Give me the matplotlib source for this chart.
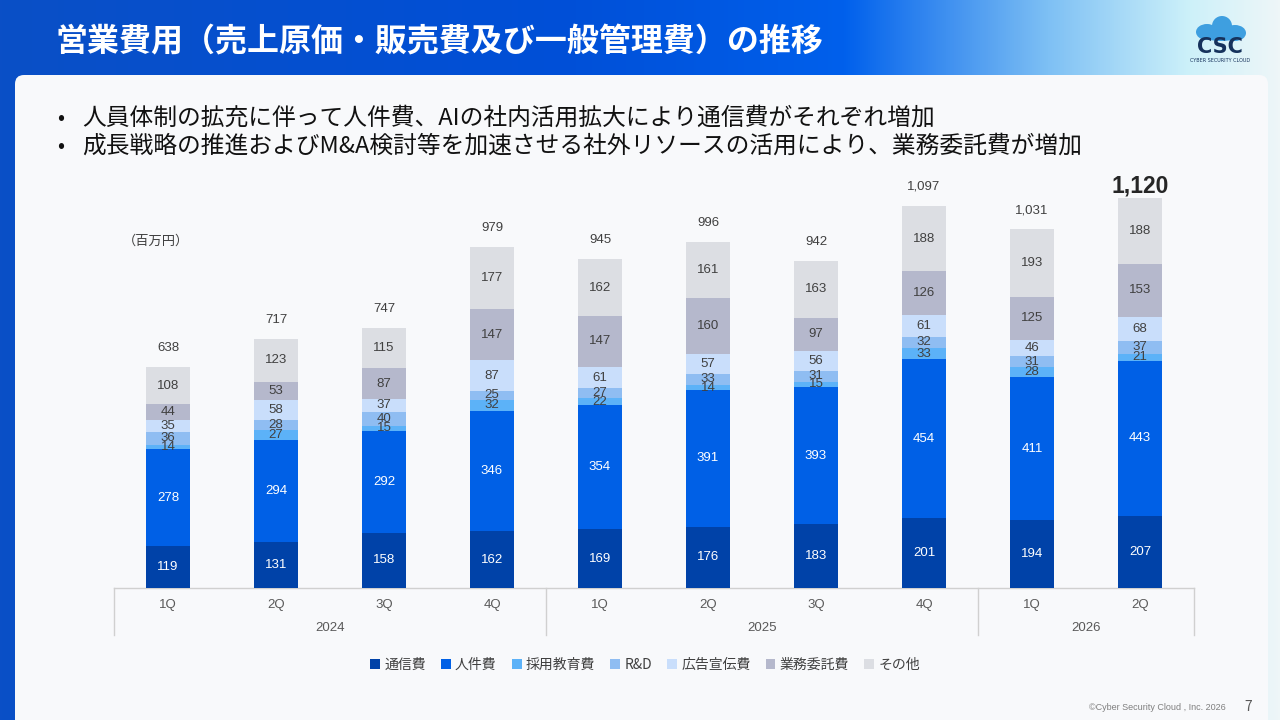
import numpy as np
import matplotlib
matplotlib.use('Agg')
import matplotlib.pyplot as plt
from matplotlib.patches import FancyBboxPatch, Rectangle, Ellipse
from matplotlib.colors import to_rgb

plt.rcParams['font.family'] = ['Noto Sans CJK JP', 'DejaVu Sans']

# data (百万円)
quarters = ['1Q', '2Q', '3Q', '4Q', '1Q', '2Q', '3Q', '4Q', '1Q', '2Q']
years = ['2024', '2025', '2026']
year_spans = [(0, 3), (4, 7), (8, 9)]
series_names = ['通信費', '人件費', '採用教育費', 'R&D', '広告宣伝費', '業務委託費', 'その他']
tsushin = [119, 131, 158, 162, 169, 176, 183, 201, 194, 207]
jinken = [278, 294, 292, 346, 354, 391, 393, 454, 411, 443]
saiyo = [14, 27, 15, 32, 22, 14, 15, 33, 28, 21]
rnd = [36, 28, 40, 25, 27, 33, 31, 32, 31, 37]
kokoku = [35, 58, 37, 87, 61, 57, 56, 61, 46, 68]
gyomu = [44, 53, 87, 147, 147, 160, 97, 126, 125, 153]
sonota = [108, 123, 115, 177, 162, 161, 163, 188, 193, 188]
totals = [638, 717, 747, 979, 945, 996, 942, 1097, 1031, 1120]

series = [tsushin, jinken, saiyo, rnd, kokoku, gyomu, sonota]
colors = ['#0042A8', '#0060E6', '#5CB2F8', '#8FBDF2', '#C9DEFB', '#B5B8CC', '#DCDEE3']
label_colors = ['white', 'white', '#404040', '#404040', '#404040', '#404040', '#404040']

W, H = 1280, 720
fig = plt.figure(figsize=(12.8, 7.2), dpi=100)

# background gradient
bg = fig.add_axes([0, 0, 1, 1])
bg.set_axis_off()
stops_x = [0.0, 0.45, 0.66, 0.82, 0.93, 1.0]
stops_c = ['#0A4FC6', '#0050D8', '#0060EC', '#7EC0F4', '#CDF1FA', '#EEF6F8']
xs = np.linspace(0, 1, 640)
rgb = np.array([to_rgb(c) for c in stops_c])
grad = np.stack([np.interp(xs, stops_x, rgb[:, k]) for k in range(3)], axis=-1)
bg.imshow(grad[np.newaxis, :, :], extent=[0, W, 0, H], aspect='auto')
bg.set_xlim(0, W)
bg.set_ylim(0, H)

# light card
card = FancyBboxPatch((15, -30), 1253, H - 75 + 30, boxstyle='round,pad=0,rounding_size=9',
                      facecolor='#F8F9FB', edgecolor='none', zorder=2)
bg.add_patch(card)

# title
bg.text(55, H - 42, '営業費用（売上原価・販売費及び一般管理費）の推移', color='white',
        fontsize=23, fontweight='bold', va='center', ha='left', zorder=3)

# logo
for cx, cy, rw, rh in [(1207, 688, 22, 16), (1222, 694, 20, 20), (1235, 687, 22, 16), (1221, 684, 36, 10)]:
    bg.add_patch(Ellipse((cx, cy), rw, rh, facecolor='#3E9FE0', edgecolor='none', zorder=3))
bg.text(1220, 673, 'CSC', color='#16325C', fontsize=15, fontweight='bold', ha='center', va='center',
        family=['DejaVu Sans'], zorder=3)
bg.text(1220, 659, 'CYBER SECURITY CLOUD', color='#16325C', fontsize=3.5, ha='center', va='center',
        family=['DejaVu Sans'], zorder=3)

# bullets
bullets = ['人員体制の拡充に伴って人件費、AIの社内活用拡大により通信費がそれぞれ増加',
           '成長戦略の推進およびM&A検討等を加速させる社外リソースの活用により、業務委託費が増加']
for i, b in enumerate(bullets):
    yy = H - 118 - i * 28
    bg.text(57, yy, '•', fontsize=15, color='#111111', va='center', zorder=3)
    bg.text(82, yy, b, fontsize=17.1, color='#111111', va='center', zorder=3)

bg.text(123, H - 241, '（百万円）', fontsize=9.5, color='#404040', va='center', ha='left', zorder=3)

# footer
bg.text(1226, H - 708, '©Cyber Security Cloud , Inc. 2026', fontsize=6.5, color='#7F7F7F',
        ha='right', va='center', family=['Liberation Sans', 'DejaVu Sans'], zorder=3)
bg.text(1248, H - 707, '7', fontsize=10, color='#595959', ha='center', va='center', zorder=3)

# chart
base_px = 588
ymax = 1200
scale = 0.349
top_px = base_px - ymax * scale
ax = fig.add_axes([114 / W, 1 - base_px / H, (1194 - 114) / W, (base_px - top_px) / H])
ax.set_facecolor('none')
ax.set_xlim(-0.5, 9.5)
ax.set_ylim(0, ymax)
for s in ax.spines.values():
    s.set_visible(False)
ax.set_xticks([])
ax.set_yticks([])

x = np.arange(len(quarters))
num_font = ['Liberation Sans', 'DejaVu Sans']
bottom = np.zeros(len(quarters))
for vals, col, lc, name in zip(series, colors, label_colors, series_names):
    vals = np.array(vals)
    ax.bar(x, vals, 0.4, bottom=bottom, color=col, label=name, zorder=2)
    for xi, b, v in zip(x, bottom, vals):
        ax.text(xi, b + v / 2, str(v), ha='center', va='center', fontsize=9.5, color=lc,
                family=num_font, zorder=3)
    bottom += vals

for i, (xi, top, t) in enumerate(zip(x, bottom, totals)):
    if i == len(totals) - 1:
        ax.text(xi, top + 1 / scale, f'{t:,}', ha='center', va='bottom', fontsize=16.5,
                fontweight='bold', color='#262626', family=num_font)
    else:
        ax.text(xi, top + 13 / scale, f'{t:,}', ha='center', va='bottom', fontsize=9.5,
                color='#404040', family=num_font)

# category axis
lc = '#D0D0D0'
ax.plot([-0.5, 9.5], [0, 0], color=lc, lw=1, clip_on=False, zorder=1)
low = -47 / scale
for xb in [-0.5, 3.5, 7.5, 9.5]:
    ax.plot([xb, xb], [0, low], color=lc, lw=1, clip_on=False)
for xi, q in zip(x, quarters):
    ax.text(xi, -17 / scale, q, ha='center', va='center', fontsize=9.5, color='#595959', family=num_font)
for yr, (a, b) in zip(years, year_spans):
    ax.text((a + b) / 2, -40 / scale, yr, ha='center', va='center', fontsize=9.5, color='#595959',
            family=num_font)

# legend
handles = [Rectangle((0, 0), 1, 1, facecolor=c, edgecolor='none') for c in colors]
fig.legend(handles, series_names, loc='center', bbox_to_anchor=(645 / W, 1 - 665 / H), ncol=7,
           frameon=False, fontsize=10, handlelength=0.7, handleheight=0.7, handletextpad=0.3,
           columnspacing=1.1, labelcolor='#404040')

fig.savefig('out.png', dpi=100)
